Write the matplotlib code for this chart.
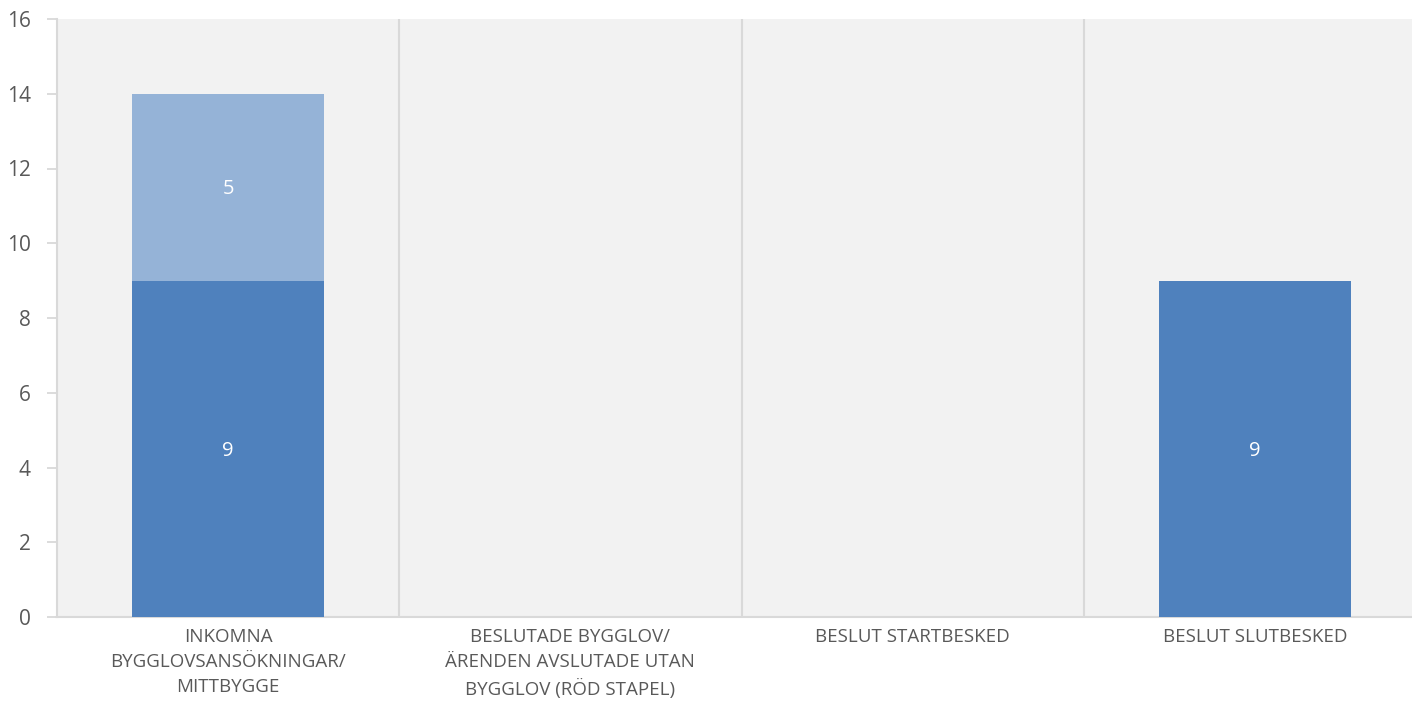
import matplotlib
matplotlib.use("Agg")
import matplotlib.pyplot as plt
import numpy as np

categories = ["INKOMNA\nBYGGLOVSANSÖKNINGAR/\nMITTBYGGE",
              "BESLUTADE BYGGLOV/\nÄRENDEN AVSLUTADE UTAN\nBYGGLOV (RÖD STAPEL)",
              "BESLUT STARTBESKED",
              "BESLUT SLUTBESKED"]
series_a = [9, 0, 0, 9]
series_b = [5, 0, 0, 0]
yticks = [0, 2, 4, 6, 8, 10, 12, 14, 16]

plt.rcParams['font.family'] = ['Open Sans', 'DejaVu Sans']

fig = plt.figure(figsize=(14.12, 7.07), dpi=100)
ax = fig.add_axes([57/1412, 90/707, 1369/1412, 598/707])
ax.set_facecolor('#f2f2f2')

x = np.arange(len(categories))
w = 0.56
c1, c2 = '#4f81bd', '#95b3d7'
b1 = ax.bar(x, series_a, w, color=c1, zorder=3)
b2 = ax.bar(x, series_b, w, bottom=series_a, color=c2, zorder=3)

for vals, base in [(series_a, [0]*4), (series_b, series_a)]:
    for xi, v, b in zip(x, vals, base):
        if v:
            ax.text(xi, b + v/2 - 0.05, str(v), ha='center', va='center', color='white', fontsize=14.5, zorder=4)

ax.set_xlim(-0.5, len(categories) - 0.5)
ax.set_ylim(0, 16)
ax.set_yticks(yticks)
ax.tick_params(axis='y', labelsize=15, labelcolor='#595959', color='#d9d9d9', length=7, width=1.3, pad=12)

for b in np.arange(0.5, len(categories) - 0.5, 1):
    ax.axvline(b, color='#d9d9d9', lw=1.5, zorder=1)

ax.set_xticks(x)
ax.set_xticklabels([])
ax.tick_params(axis='x', length=0)
for xi, lab in zip(x, categories):
    ax.text(xi, -0.3, lab, ha='center', va='top', fontsize=13.5, color='#595959',
            linespacing=1.48, transform=ax.transData)

for s in ['top', 'right']:
    ax.spines[s].set_visible(False)
ax.spines['left'].set_color('#d9d9d9')
ax.spines['left'].set_linewidth(1.5)
ax.spines['bottom'].set_color('#d9d9d9')
ax.spines['bottom'].set_linewidth(1.5)

fig.savefig('out.png', dpi=100, facecolor='white')
